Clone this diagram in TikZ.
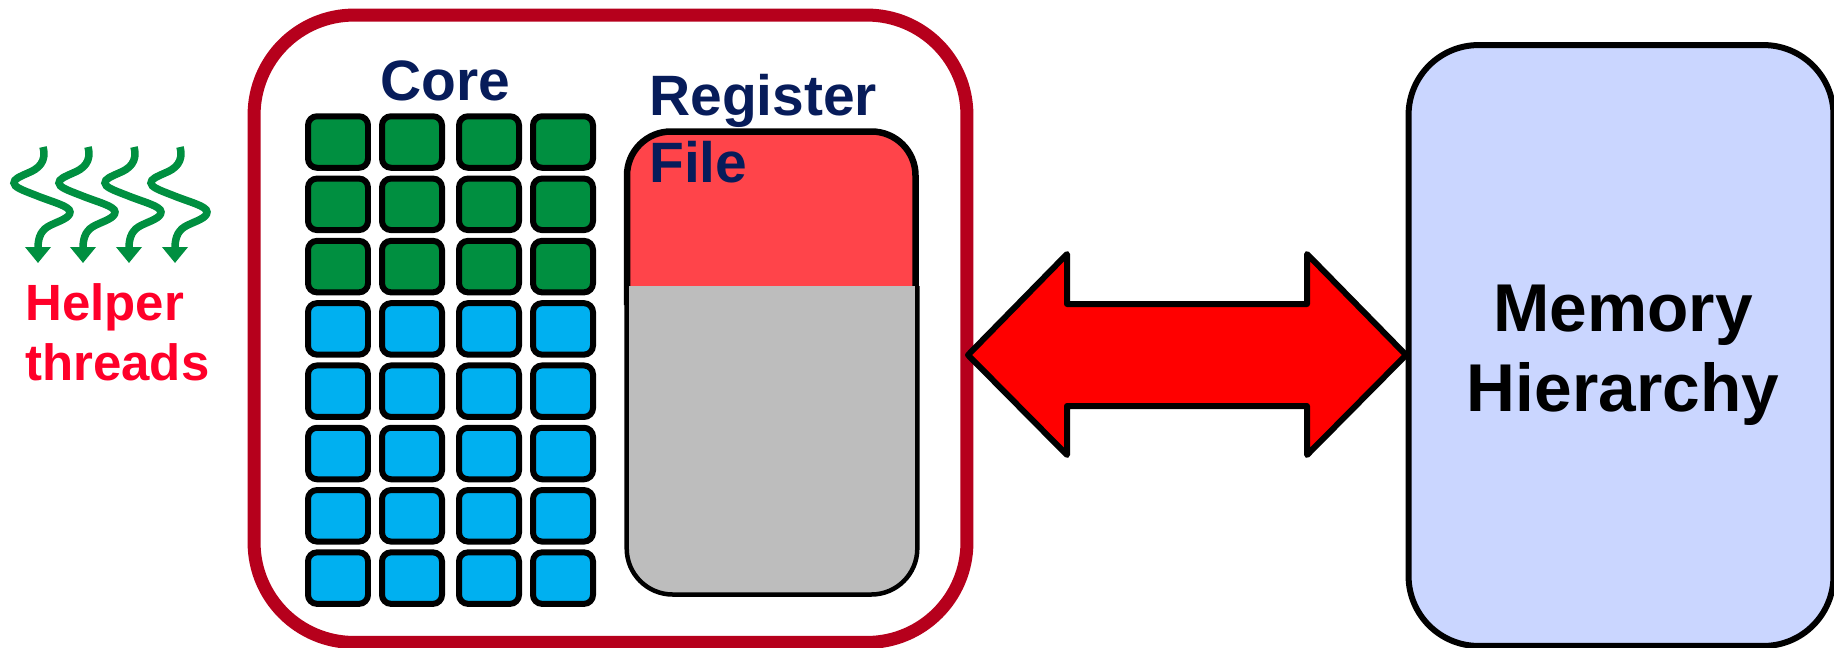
\documentclass[tikz,border=0pt]{standalone}
\usepackage{fontspec}
\setmainfont{Liberation Sans}
\usetikzlibrary{positioning,arrows.meta}
\definecolor{coreedge}{RGB}{182,0,28}
\definecolor{helpc}{RGB}{0,143,64}
\definecolor{mainc}{RGB}{0,176,240}
\definecolor{regred}{RGB}{255,68,74}
\definecolor{reggray}{RGB}{189,189,189}
\definecolor{membg}{RGB}{202,214,255}
\definecolor{titlec}{RGB}{7,28,90}
\definecolor{threadc}{RGB}{255,0,41}
\tikzset{
  blk/.style={draw,rounded corners=1.8mm,minimum width=12mm,minimum height=10.3mm,line width=1.2mm,inner sep=0pt,outer sep=0pt},
  hcell/.style={blk,fill=helpc},
  mcell/.style={blk,fill=mainc},
  corebox/.style={draw=coreedge,fill=white,rounded corners=20mm,line width=2.6mm,minimum width=142.6mm,minimum height=125.5mm,outer sep=0pt},
  membox/.style={draw,fill=membg,rounded corners=14mm,line width=1.2mm,minimum width=85mm,minimum height=120.2mm,outer sep=0pt},
  lbl/.style={align=left,font=\fontsize{32.4}{38}\selectfont\bfseries,text=titlec,inner sep=0pt},
  ar/.style={-{Triangle[length=3.2mm,width=5mm]},line width=1.5mm,helpc},
}
\begin{document}
\begin{tikzpicture}[x=0.02cm,y=-0.02cm]
  \useasboundingbox (0,0) rectangle (1834,647);
  \node[corebox] (core) at (610.5,328.75) {};
  \foreach \c/\x in {1/338,2/412,3/489,4/563} {
    \foreach \r in {1,2,3} {\node[hcell] (cell\c\r) at (\x,{142+62.3*(\r-1)}) {};}
    \foreach \r in {4,...,8} {\node[mcell] (cell\c\r) at (\x,{142+62.3*(\r-1)}) {};}
  }
  \node[lbl,anchor=base] (corelbl) at (445,100) {Core};
  \draw[fill=regred,line width=1.3mm,rounded corners=8.8mm] (627,305) -- (627,131.5) -- (915.5,131.5) -- (915.5,305);
  \draw[fill=reggray,line width=0.9mm,rounded corners=9.2mm] (626.7,286) -- (626.7,594.5) -- (917.3,594.5) -- (917.3,286);
  \node[lbl,anchor=north west] (reglbl) at (649,74) {Register\\File};
  \node[membox] (mem) at (1621,345.5) {};
  \node[align=center,font=\fontsize{38.5}{45.5}\selectfont\bfseries,inner sep=0pt] (memlbl) at (1623,355) {Memory\\Hierarchy};
  \draw[fill=red,line width=1.2mm,line join=round] (968,355) -- (1067,254) -- (1067,304) -- (1307,304) -- (1307,254)
    -- (1406,355) -- (1307,455) -- (1307,406) -- (1067,406) -- (1067,455) -- cycle;
  \foreach \dx in {0,45,91,137} {
    \draw[ar,shift={(\dx,0)}] (43,147) .. controls (47,162) and (38,169) .. (28,173) .. controls (19,177) and (14,179) .. (14,183)
      .. controls (14,187) and (22,190) .. (35,195) .. controls (52,202) and (70,206) .. (70,212)
      .. controls (70,218) and (59,221) .. (51,225) .. controls (42,229) and (38,236) .. (38,263);
  }
  \node[align=left,font=\fontsize{29}{34}\selectfont\bfseries,text=threadc,inner sep=0pt,anchor=north west] (helplbl) at (25,283) {Helper\\threads};
\end{tikzpicture}
\end{document}
